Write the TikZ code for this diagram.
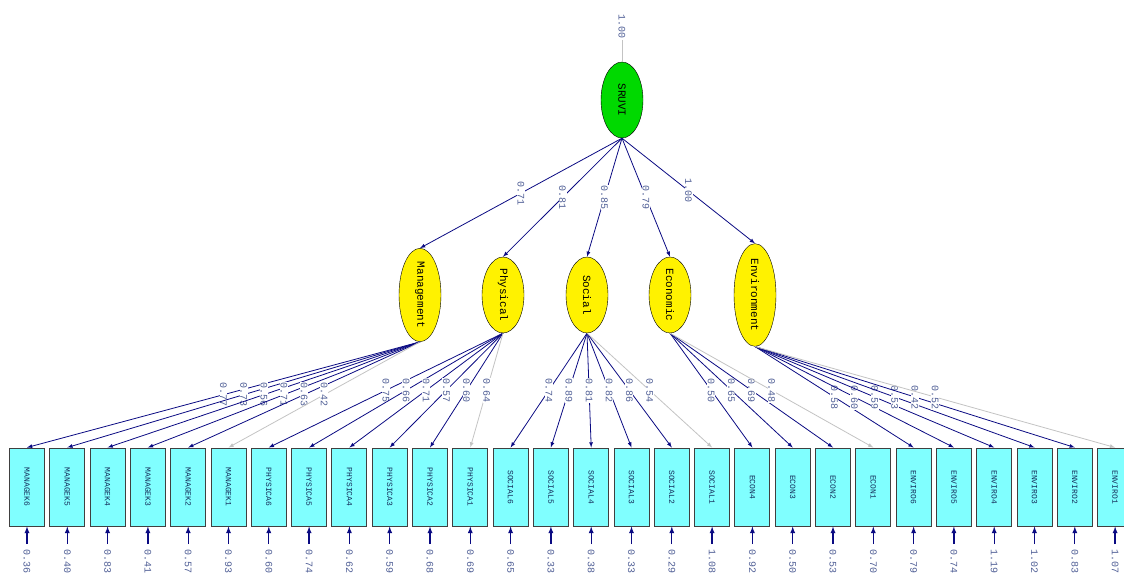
\documentclass[tikz,border=0pt]{standalone}
\usepackage{graphicx}
\usepackage{fontspec}
\setmonofont{Liberation Mono}
\usetikzlibrary{shapes, arrows.meta, positioning}
\definecolor{path}{RGB}{10,10,130}
\definecolor{fixd}{RGB}{195,195,195}
\definecolor{obs}{RGB}{128,255,255}
\definecolor{val}{RGB}{80,95,150}
\definecolor{obstxt}{RGB}{20,45,90}
\tikzstyle{every node}=[font=\ttfamily]
\tikzstyle{obsbox}=[draw=black!75,fill=obs,rectangle,line width=1pt,minimum width=35pt,minimum height=78pt,inner sep=0pt,text=obstxt,font=\ttfamily\fontsize{8}{8}\selectfont]
\tikzstyle{latent}=[draw,fill=yellow,ellipse,rotate=-90,minimum width=76pt,minimum height=42pt,inner sep=0pt,font=\ttfamily\fontsize{11}{11}\selectfont]
\tikzstyle{lab}=[rotate=-90,fill=white,inner sep=0.6pt,text=val,font=\ttfamily\fontsize{10}{10}\selectfont]
\tikzstyle{load}=[->,line width=0.8pt]

\begin{document}
\begin{tikzpicture}[>=latex,x=1pt,y=-1pt]
  \useasboundingbox (0,0) rectangle (1124,575);
  \node[latent,fill=green!85!black] (sruvi) at (622,100) {SRUVI};
  \node[lab] (var) at (622,27) {1.00};
  \draw[fixd] (var) -- (sruvi.west);
  \node[latent] (mgmt) at (420,295) {Management};
  \node[latent] (phys) at (503,295) {Physical};
  \node[latent] (soc) at (587,295) {Social};
  \node[latent] (econ) at (670,295) {Economic};
  \node[latent] (env) at (755,295) {Environment};
  \foreach \l/\v in {mgmt/0.71,phys/0.81,soc/0.85,econ/0.79,env/1.00}
    \draw[load,path] (sruvi.east) -- node[lab] {\v} (\l.west);
  \foreach \n [count=\i from 0] in {MANAGEK6,MANAGEK5,MANAGEK4,MANAGEK3,MANAGEK2,MANAGEK1,
      PHYSICA6,PHYSICA5,PHYSICA4,PHYSICA3,PHYSICA2,PHYSICA1,
      SOCIAL6,SOCIAL5,SOCIAL4,SOCIAL3,SOCIAL2,SOCIAL1,
      ECON4,ECON3,ECON2,ECON1,
      ENVIRO6,ENVIRO5,ENVIRO4,ENVIRO3,ENVIRO2,ENVIRO1}
    \node[obsbox] (b\i) at ({27+40.3*\i},487) {\rotatebox{-90}{\n}};
  \foreach \l/\i/\v/\c in {mgmt/0/0.77/path,mgmt/1/0.73/path,mgmt/2/0.56/path,mgmt/3/0.71/path,mgmt/4/0.63/path,mgmt/5/0.42/fixd,
      phys/6/0.75/path,phys/7/0.66/path,phys/8/0.71/path,phys/9/0.57/path,phys/10/0.60/path,phys/11/0.64/fixd,
      soc/12/0.74/path,soc/13/0.89/path,soc/14/0.81/path,soc/15/0.82/path,soc/16/0.86/path,soc/17/0.54/fixd,
      econ/18/0.50/path,econ/19/0.65/path,econ/20/0.69/path,econ/21/0.48/fixd,
      env/22/0.58/path,env/23/0.60/path,env/24/0.59/path,env/25/0.53/path,env/26/0.42/path,env/27/0.52/fixd}
    \draw[load,\c] (\l.east) -- node[lab] {\v} (b\i.north);
  \foreach \e [count=\i from 0] in {0.36,0.40,0.83,0.41,0.57,0.93,0.60,0.74,0.62,0.59,0.68,0.69,0.65,0.33,
      0.38,0.33,0.29,1.08,0.92,0.50,0.53,0.70,0.79,0.74,1.19,1.02,0.83,1.07}{
    \coordinate (e\i) at ({27+40.3*\i},544);
    \draw[->,path,line width=1.3pt] (e\i) -- (b\i.south);
    \node[lab] (ev\i) at ({27+40.3*\i},561) {\e};
  }
\end{tikzpicture}
\end{document}
